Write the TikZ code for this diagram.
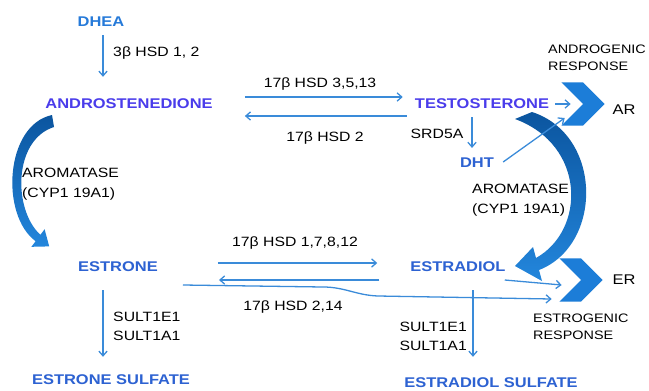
\documentclass[tikz,border=0pt]{standalone}
\usepackage{fontspec}
\setmainfont{Liberation Sans}[FakeStretch=1.17]
\usepackage{xcolor}
\definecolor{arrowblue}{HTML}{3A8BD9}
\definecolor{chevblue}{HTML}{1C7DD8}
\definecolor{molblue}{HTML}{2D62D2}
\definecolor{keyblue}{HTML}{4A3CEB}
\definecolor{arodark}{HTML}{0B559F}
\definecolor{arolight}{HTML}{2386DC}
\usepackage{tikz}
\usetikzlibrary{arrows.meta,shapes.symbols}

\begin{document}
\begin{tikzpicture}[
		x=0.03cm, y=-0.03cm,
		mol/.style={
			font=\fontsize{12}{14}\selectfont\bfseries,
			text=molblue,
			inner sep=0pt
		},
		key/.style={
			mol,
			text=keyblue
		},
		enz/.style={
			font=\fontsize{11.5}{16}\selectfont,
			align=left,
			inner sep=0pt
		},
		resp/.style={
			font=\fontsize{10.5}{14.5}\selectfont,
			align=left,
			inner sep=0pt
		},
		arrow/.style={
			-{Straight Barb[length=4pt,width=7pt]},
			line width=1.1pt,
			draw=arrowblue
		},
		chev/.style={
			signal,
			signal from=west,
			signal to=east,
			fill=chevblue,
			inner sep=0pt,
			minimum width=34pt,
			minimum height=37pt
		},
		aro/.style={
			top color=arodark,
			bottom color=arolight,
			draw=none
		}
	]
	
	\fill[white] (0,0) rectangle (649,390);
	\useasboundingbox (0,0) rectangle (649,390);
	
	% Steroids
	\node[mol, text=molblue!85!cyan] (dhea) at (101,22) {DHEA};
	\node[key] (andro) at (129,104) {ANDROSTENEDIONE};
	\node[key] (testo) at (482,104) {TESTOSTERONE};
	\node[mol] (dht) at (477,163) {DHT};
	\node[mol] (estrone) at (118,267) {ESTRONE};
	\node[mol] (estradiol) at (458,267) {ESTRADIOL};
	\node[mol] (esulf) at (111,380) {ESTRONE SULFATE};
	\node[mol] (e2sulf) at (491,383) {ESTRADIOL SULFATE};
	
	% Receptors
	\node[chev] (archev) at (583,104) {};
	\node[chev] (erchev) at (581,280) {};
	\node[enz, font=\fontsize{12}{14}\selectfont] (ar) at (624,110) {AR};
	\node[enz, font=\fontsize{12}{14}\selectfont] (er) at (624,280) {ER};
	\node[resp, anchor=west] (androresp) at (548,58) {ANDROGENIC\\RESPONSE};
	\node[resp, anchor=west] (estroresp) at (533,327) {ESTROGENIC\\RESPONSE};
	
	% Enzyme labels
	\node[enz, anchor=west] (hsd3b) at (113,53) {3β HSD 1, 2};
	\node[enz] (hsdfwd) at (320,84) {17β HSD 3,5,13};
	\node[enz] (hsdrev) at (325,138) {17β HSD 2};
	\node[enz] (srd) at (437,134) {SRD5A};
	\node[enz, anchor=west, font=\fontsize{11.5}{17.5}\selectfont] (aroleft) at (22,184) {AROMATASE\\(CYP1 19A1)};
	\node[enz, anchor=west, font=\fontsize{11.5}{17}\selectfont] (aroright) at (472,200) {AROMATASE\\(CYP1 19A1)};
	\node[enz] (hsdfwd2) at (295,243) {17β HSD 1,7,8,12};
	\node[enz] (hsdrev2) at (293,307) {17β HSD 2,14};
	\node[enz, anchor=west] (sultl) at (113,326) {SULT1E1\\SULT1A1};
	\node[enz, anchor=east] (sultr) at (467,336) {SULT1E1\\SULT1A1};
	
	% Aromatase arrows
	\shade[aro] (52,115) .. controls (5,125) and (0,215) .. (35.6,241.2)
		-- (31.4,246.8) -- (49.2,246.4) -- (44.6,229.2) -- (40.4,234.8)
		.. controls (13,210) and (13,140) .. (54,127) -- cycle;
	\shade[aro] (515,119) -- (532,112) .. controls (603,135) and (603,245) .. (539,270)
		-- (542,281) -- (515,266) -- (533,247) -- (536,258)
		.. controls (586,230) and (586,145) .. (515,119) -- cycle;
	
	% Thin arrows
	\draw[arrow] ([shift={(2,8)}]dhea.south) -- ([shift={(2,-22)}]dhea.south |- andro.north);
	\draw[arrow] ([shift={(32,-7)}]andro.east) -- ([shift={(-12,-7)}]testo.west);
	\draw[arrow] ([shift={(-8,12)}]testo.west) -- ([shift={(32,12)}]andro.east);
	\draw[arrow] ([shift={(-10,8)}]testo.south) -- ([shift={(-5,-10)}]dht.north);
	\draw[arrow] ([shift={(6,0)}]testo.east) -- ([shift={(-12,0)}]archev.west);
	\draw[arrow] ([shift={(9,-1)}]dht.east) -- ([shift={(-18,14)}]archev.west);
	\draw[arrow] ([shift={(60,-4)}]estrone.east) -- ([shift={(-33,-4)}]estradiol.west);
	\draw[arrow] ([shift={(-31,13)}]estradiol.west) -- ([shift={(61,13)}]estrone.east);
	\draw[arrow] ([shift={(25,18)}]estrone.east) -- ++(140,2) to[out=0,in=178] ++(55,9)
		-- ([shift={(-29,19)}]erchev.west);
	\draw[arrow] ([shift={(-1,13)}]estradiol.east) -- ([shift={(-19,5)}]erchev.west);
	\draw[arrow] ([shift={(-15,18)}]estrone.south) -- ([shift={(-8,-18)}]esulf.north);
	\draw[arrow] ([shift={(15,18)}]estradiol.south) -- ([shift={(-18,-21)}]e2sulf.north);
	
\end{tikzpicture}
\end{document}
